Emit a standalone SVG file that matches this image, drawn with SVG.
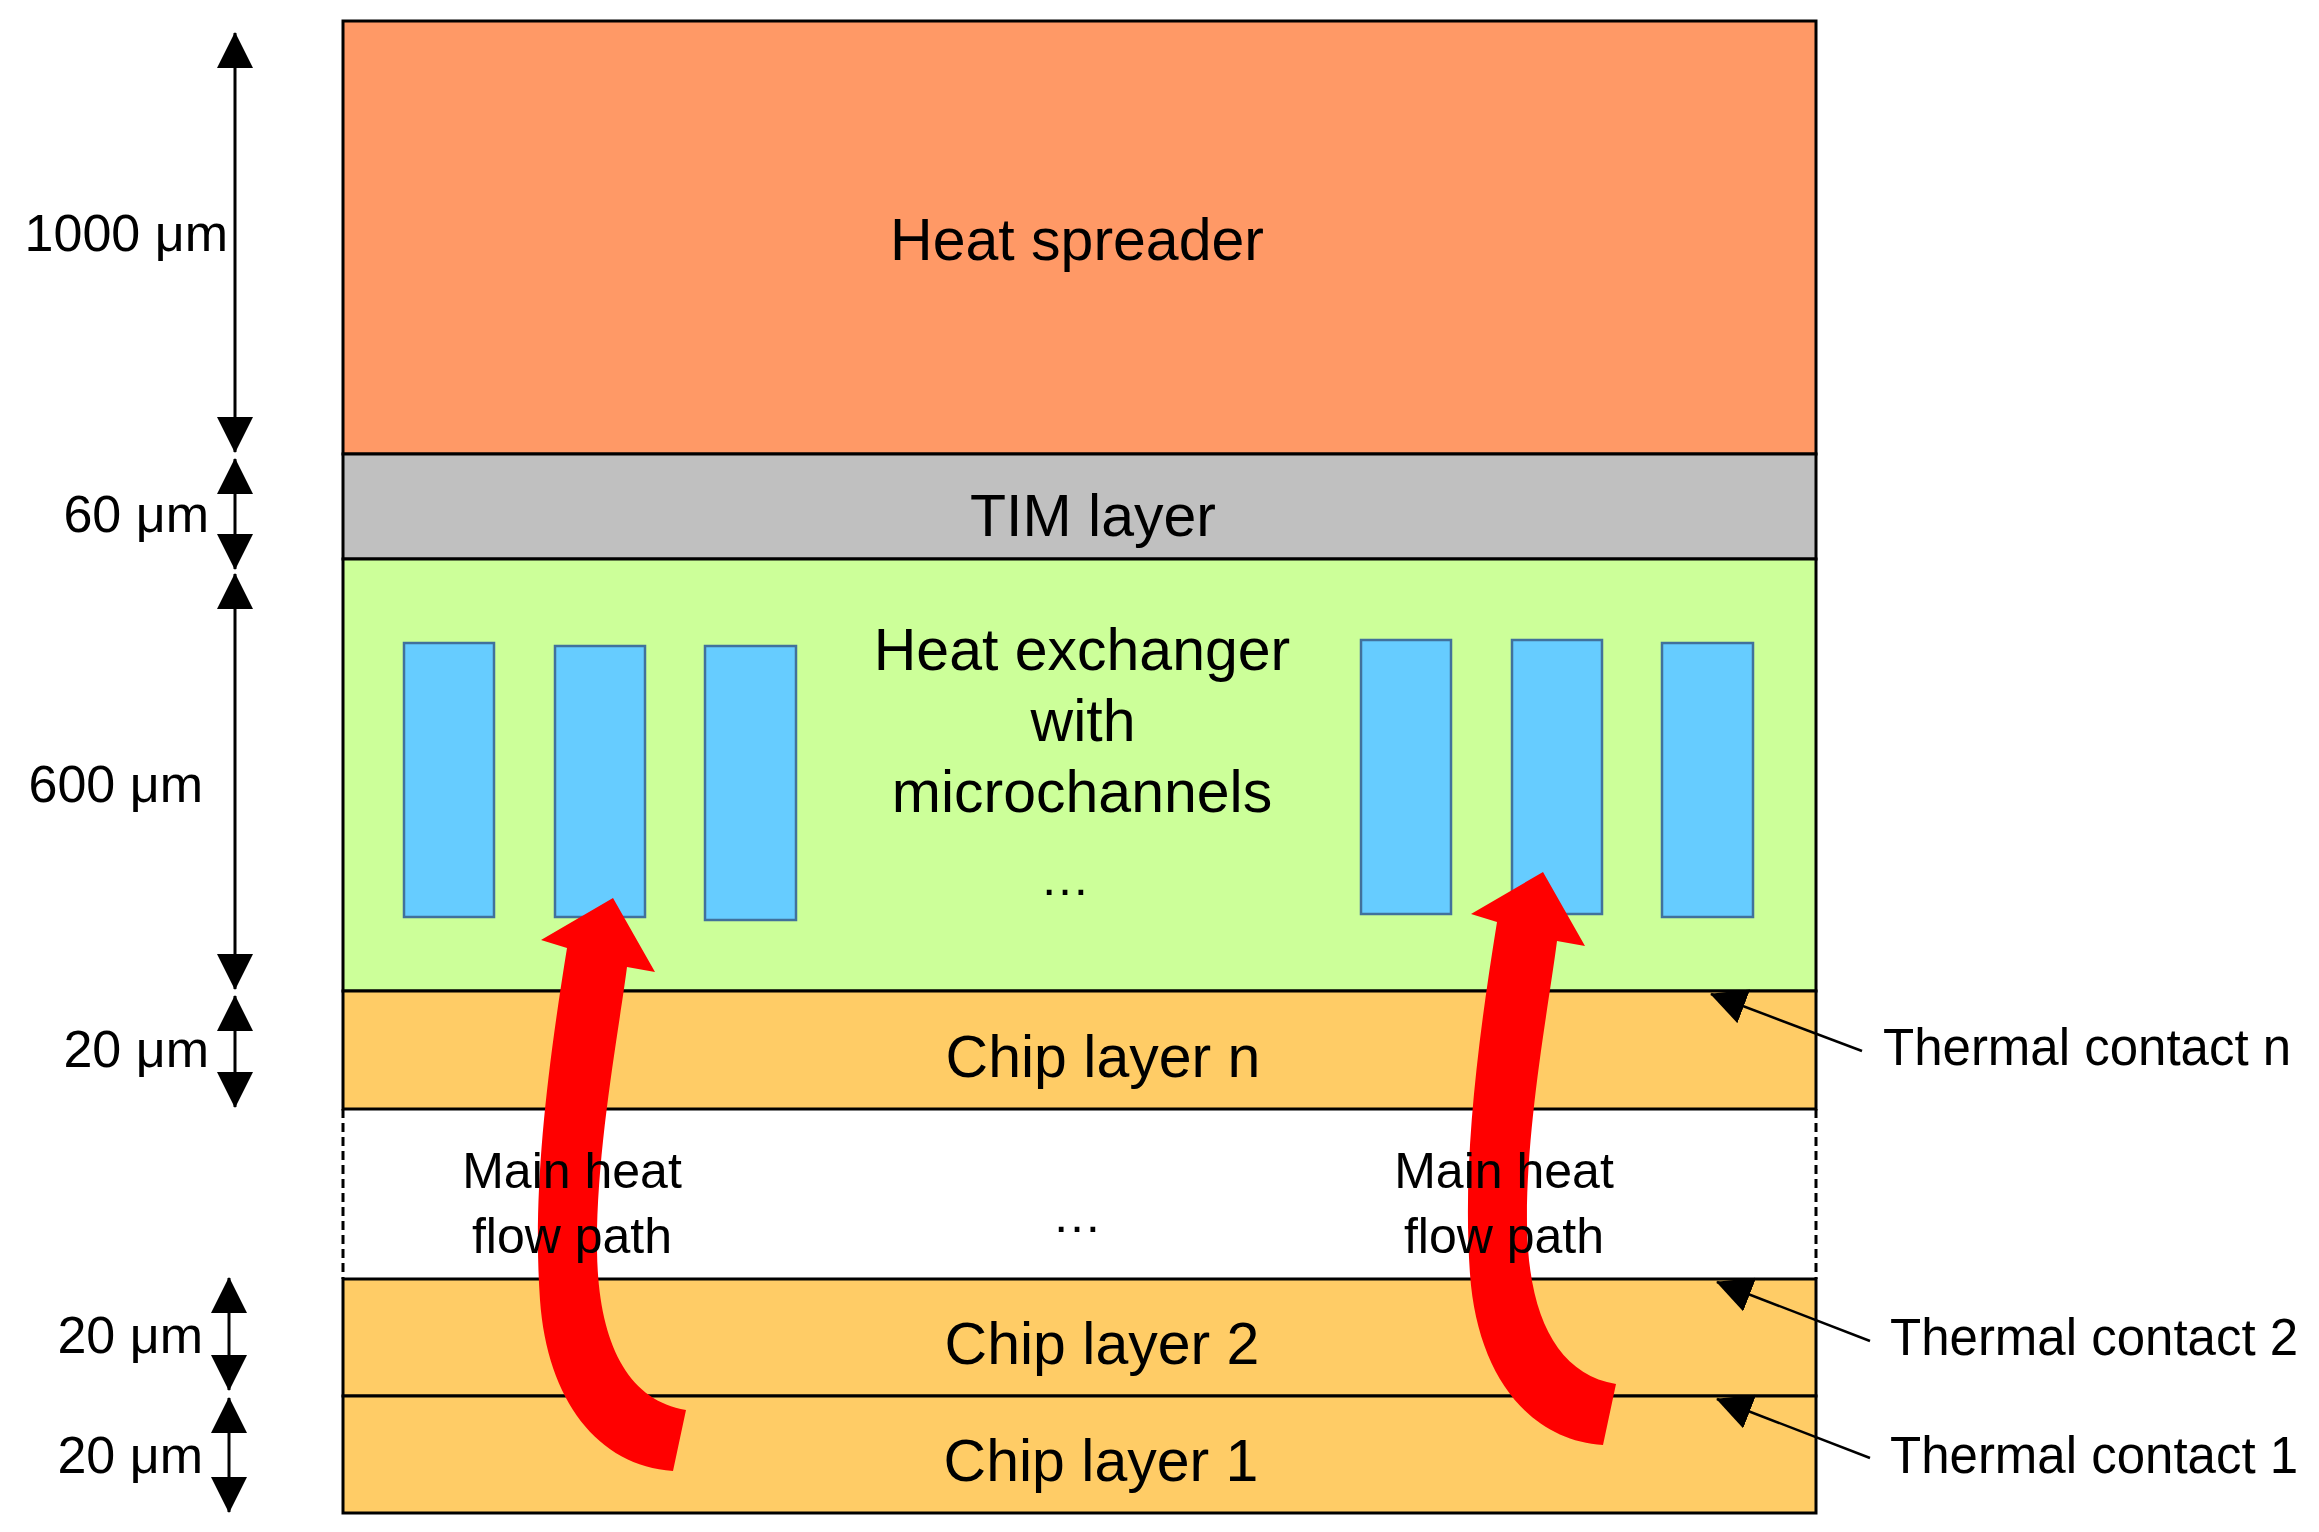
<svg xmlns="http://www.w3.org/2000/svg" width="2319" height="1532" viewBox="0 0 2319 1532">
  <defs>
    <style>
      .layer { stroke: #000; stroke-width: 3; }
      .ch { fill: #66CCFF; stroke: #41719C; stroke-width: 2.5; }
      .big { font-family: "Liberation Sans", Arial, sans-serif; font-size: 59px; fill: #000; text-anchor: middle; }
      .mid { font-family: "Liberation Sans", Arial, sans-serif; font-size: 50px; fill: #000; text-anchor: middle; }
      .dim { font-family: "Liberation Sans", Arial, sans-serif; font-size: 52px; fill: #000; text-anchor: end; }
      .lbl { font-family: "Liberation Sans", Arial, sans-serif; font-size: 51px; fill: #000; text-anchor: start; }
      .dimline { stroke: #000; stroke-width: 3; fill: none; marker-start: url(#ah); marker-end: url(#ah); }
      .leader { stroke: #000; stroke-width: 2.5; fill: none; marker-end: url(#ah); }
      .flow { fill: #FF0000; }
    </style>
    <marker id="ah" markerUnits="userSpaceOnUse" markerWidth="36" markerHeight="36" viewBox="0 0 36 36" refX="35" refY="18" orient="auto-start-reverse">
      <path d="M0,0 L36,18 L0,36 Z" fill="#000"/>
    </marker>
    <path id="flowArrow" d="M613,898 L655,972 L627,967 C619,1030 596,1150 597,1250 C598,1340 626,1400 686,1410 L673,1471 C598,1466 547,1400 540,1300 C533,1200 544,1090 567,948 L541,940 Z"/>
  </defs>
  <rect x="0" y="0" width="2319" height="1532" fill="#fff"/>

  <g id="heat-spreader">
    <rect class="layer" x="343" y="21" width="1473" height="433" fill="#FF9966"/>
    <text class="big" x="1077" y="260">Heat spreader</text>
  </g>
  <g id="tim-layer">
    <rect class="layer" x="343" y="454" width="1473" height="105" fill="#C0C0C0"/>
    <text class="big" x="1093" y="536">TIM layer</text>
  </g>
  <g id="heat-exchanger">
    <rect class="layer" x="343" y="559" width="1473" height="432" fill="#CCFF99"/>
    <rect class="ch" x="404" y="643" width="90" height="274"/>
    <rect class="ch" x="555" y="646" width="90" height="271"/>
    <rect class="ch" x="705" y="646" width="91" height="274"/>
    <rect class="ch" x="1361" y="640" width="90" height="274"/>
    <rect class="ch" x="1512" y="640" width="90" height="274"/>
    <rect class="ch" x="1662" y="643" width="91" height="274"/>
    <text class="big" x="1082" y="670">Heat exchanger</text>
    <text class="big" x="1083" y="741">with</text>
    <text class="big" x="1082" y="812">microchannels</text>
    <text class="mid" x="1065" y="895">…</text>
  </g>
  <g id="chip-layer-n">
    <rect class="layer" x="343" y="991" width="1473" height="118" fill="#FFCC66"/>
    <text class="big" x="1103" y="1077">Chip layer n</text>
  </g>
  <g id="intermediate-layers">
    <line x1="343" y1="1109" x2="343" y2="1279" stroke="#000" stroke-width="3" stroke-dasharray="9,5"/>
    <line x1="1816" y1="1109" x2="1816" y2="1279" stroke="#000" stroke-width="3" stroke-dasharray="9,5"/>
    <text class="mid" x="1077" y="1232">…</text>
  </g>
  <g id="chip-layer-2">
    <rect class="layer" x="343" y="1279" width="1473" height="117" fill="#FFCC66"/>
    <text class="big" x="1102" y="1364">Chip layer 2</text>
  </g>
  <g id="chip-layer-1">
    <rect class="layer" x="343" y="1396" width="1473" height="117" fill="#FFCC66"/>
    <text class="big" x="1101" y="1481">Chip layer 1</text>
  </g>

  <g id="heat-flow-left">
    <use href="#flowArrow" class="flow"/>
    <text class="mid" x="572" y="1188">Main heat</text>
    <text class="mid" x="572" y="1253">flow path</text>
  </g>
  <g id="heat-flow-right">
    <use href="#flowArrow" class="flow" transform="translate(930,-26)"/>
    <text class="mid" x="1504" y="1188">Main heat</text>
    <text class="mid" x="1504" y="1253">flow path</text>
  </g>

  <g id="connectors">
    <line class="dimline" x1="235" y1="33" x2="235" y2="452"/>
    <line class="dimline" x1="235" y1="459" x2="235" y2="569"/>
    <line class="dimline" x1="235" y1="574" x2="235" y2="989"/>
    <line class="dimline" x1="235" y1="996" x2="235" y2="1107"/>
    <line class="dimline" x1="229" y1="1278" x2="229" y2="1390"/>
    <line class="dimline" x1="229" y1="1398" x2="229" y2="1512"/>
    <line class="leader" x1="1862" y1="1051" x2="1711" y2="994"/>
    <line class="leader" x1="1870" y1="1341" x2="1717" y2="1282"/>
    <line class="leader" x1="1870" y1="1458" x2="1717" y2="1399"/>
  </g>

  <g id="dimension-labels">
    <text class="dim" x="228" y="251">1000 μm</text>
    <text class="dim" x="209" y="532">60 μm</text>
    <text class="dim" x="203" y="802">600 μm</text>
    <text class="dim" x="209" y="1067">20 μm</text>
    <text class="dim" x="203" y="1353">20 μm</text>
    <text class="dim" x="203" y="1473">20 μm</text>
  </g>
  <g id="contact-labels">
    <text class="lbl" x="1883" y="1065">Thermal contact n</text>
    <text class="lbl" x="1890" y="1355">Thermal contact 2</text>
    <text class="lbl" x="1890" y="1473">Thermal contact 1</text>
  </g>
</svg>
